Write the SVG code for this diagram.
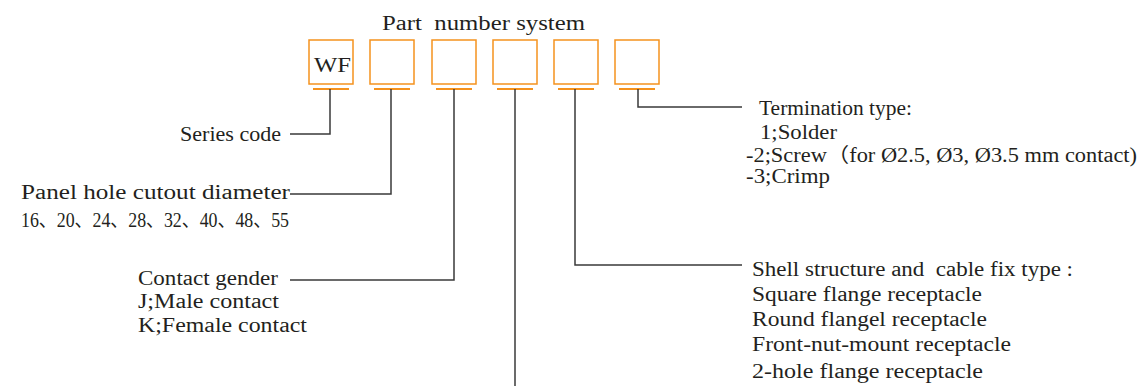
<svg xmlns="http://www.w3.org/2000/svg" width="1142" height="386" viewBox="0 0 1142 386">
<style>
text{font-family:"Liberation Serif","Noto Sans CJK SC",serif;fill:#231f20;font-size:20px;white-space:pre}
.box{fill:#fff;stroke:#f5921e;stroke-width:1.5}
.ul{stroke:#f5921e;stroke-width:1.8}
.con{fill:none;stroke:#3a3a3a;stroke-width:1.5}
</style>
<rect width="1142" height="386" fill="#fff"/>
<text id="title" x="382" y="30" font-size="24" textLength="203" lengthAdjust="spacingAndGlyphs" xml:space="preserve">Part  number system</text>
<g id="box1"><rect class="box" x="309" y="40" width="44" height="44"/><line class="ul" x1="313" y1="89" x2="349" y2="89"/><text x="314" y="72" font-size="24" textLength="37" lengthAdjust="spacingAndGlyphs">WF</text></g>
<g id="box2"><rect class="box" x="370" y="40" width="44" height="44"/><line class="ul" x1="374" y1="89" x2="410" y2="89"/></g>
<g id="box3"><rect class="box" x="432" y="40" width="44" height="44"/><line class="ul" x1="436" y1="89" x2="472" y2="89"/></g>
<g id="box4"><rect class="box" x="493" y="40" width="44" height="44"/><line class="ul" x1="497" y1="89" x2="533" y2="89"/></g>
<g id="box5"><rect class="box" x="554" y="40" width="44" height="44"/><line class="ul" x1="558" y1="89" x2="594" y2="89"/></g>
<g id="box6"><rect class="box" x="615" y="40" width="44" height="44"/><line class="ul" x1="619" y1="89" x2="655" y2="89"/></g>
<g id="connectors">
<path class="con" d="M330 89V134H290"/>
<path class="con" d="M391 89V194H290"/>
<path class="con" d="M454 89V280H290"/>
<path class="con" d="M515 89V386"/>
<path class="con" d="M575 89V265H742"/>
<path class="con" d="M638 89V107H742"/>
</g>
<g id="series"><text x="180" y="141" font-size="21" textLength="101" lengthAdjust="spacingAndGlyphs">Series code</text></g>
<g id="panel">
<text x="21" y="199" font-size="23" textLength="269" lengthAdjust="spacingAndGlyphs">Panel hole cutout diameter</text>
<text x="21" y="227" font-size="20" textLength="268" lengthAdjust="spacingAndGlyphs">16、20、24、28、32、40、48、55</text>
</g>
<g id="gender">
<text x="138" y="285" textLength="140" lengthAdjust="spacingAndGlyphs">Contact gender</text>
<text x="138" y="308" textLength="141" lengthAdjust="spacingAndGlyphs">J;Male contact</text>
<text x="138" y="332" textLength="169" lengthAdjust="spacingAndGlyphs">K;Female contact</text>
</g>
<g id="termination">
<text x="759" y="115" textLength="153" lengthAdjust="spacingAndGlyphs">Termination type:</text>
<text x="760" y="139" textLength="77" lengthAdjust="spacingAndGlyphs">1;Solder</text>
<text x="746" y="162" textLength="391" lengthAdjust="spacingAndGlyphs">-2;Screw（for Ø2.5, Ø3, Ø3.5 mm contact)</text>
<text x="746" y="183" textLength="84" lengthAdjust="spacingAndGlyphs">-3;Crimp</text>
</g>
<g id="shell">
<text x="752" y="276" textLength="321" lengthAdjust="spacingAndGlyphs" xml:space="preserve">Shell structure and  cable fix type :</text>
<text x="752" y="301" textLength="230" lengthAdjust="spacingAndGlyphs">Square flange receptacle</text>
<text x="752" y="326" textLength="235" lengthAdjust="spacingAndGlyphs">Round flangel receptacle</text>
<text x="752" y="351" textLength="259" lengthAdjust="spacingAndGlyphs">Front-nut-mount receptacle</text>
<text x="752" y="378" textLength="231" lengthAdjust="spacingAndGlyphs">2-hole flange receptacle</text>
</g>
</svg>
